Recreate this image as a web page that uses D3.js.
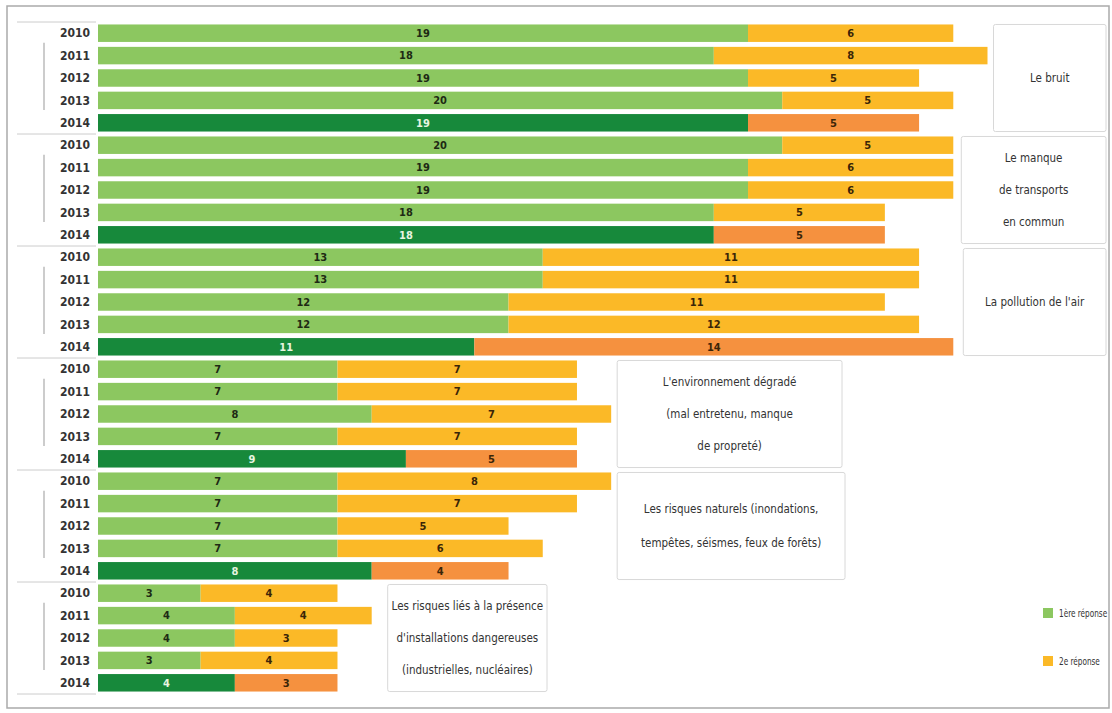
<!DOCTYPE html>
<html>
<head>
<meta charset="utf-8">
<script src="https://cdn.jsdelivr.net/npm/d3@7"></script>
<style>
  body { margin: 0; background: #fff; }
  text { font-family: "DejaVu Sans Condensed", "DejaVu Sans", sans-serif; font-stretch: condensed; }
</style>
</head>
<body>
<div id="chart"></div>
<script>
// Data
const years = ["2010", "2011", "2012", "2013", "2014"];
const categories = [
  ["Le bruit"],
  ["Le manque", "de transports", "en commun"],
  ["La pollution de l'air"],
  ["L'environnement dégradé", "(mal entretenu, manque", "de propreté)"],
  ["Les risques naturels (inondations,", "tempêtes, séismes, feux de forêts)"],
  ["Les risques liés à la présence", "d'installations dangereuses", "(industrielles, nucléaires)"]
];
const first = [
  [19, 18, 19, 20, 19],
  [20, 19, 19, 18, 18],
  [13, 13, 12, 12, 11],
  [7, 7, 8, 7, 9],
  [7, 7, 7, 7, 8],
  [3, 4, 4, 3, 4]
];
const second = [
  [6, 8, 5, 5, 5],
  [5, 6, 6, 5, 5],
  [11, 11, 11, 12, 14],
  [7, 7, 7, 7, 5],
  [8, 7, 5, 6, 4],
  [4, 4, 3, 4, 3]
];
const legendLabels = ["1ère réponse", "2e réponse"];

// Layout (label box gaps and right edges)
const boxGap = [6, 8, 10, 6, 6, 16];
const boxRight = [1106, 1106, 1106, 842, 845, 547];

const width = 1112, height = 713;
const svg = d3.select("#chart").append("svg")
  .attr("width", width).attr("height", height);

// frame
svg.append("rect")
  .attr("x", 7).attr("y", 6).attr("width", 1102).attr("height", 702)
  .attr("fill", "none").attr("stroke", "#aaa").attr("stroke-width", 1.5);

const rows = [];
categories.forEach((c, g) => years.forEach((yr, i) => rows.push({
  g, i, year: yr, key: g + "-" + yr, a: first[g][i], b: second[g][i]
})));

const x = d3.scaleLinear().domain([0, 26]).range([98, 987.5]);
const y = d3.scaleBand().domain(rows.map(d => d.key))
  .range([22, 694]).paddingInner(0.22).paddingOuter(0.11);

const colors = {
  a: "#8cc760", aLast: "#17893b",
  b: "#fbb927", bLast: "#f5913f"
};

// group separators + vertical ticks
const step = y.step();
categories.forEach((c, g) => {
  const top = y(g + "-2010") - step * 0.11;
  const bottom = y(g + "-2014") + y.bandwidth() + step * 0.11;
  svg.append("line").attr("x1", 17).attr("x2", 96).attr("y1", top).attr("y2", top)
    .attr("stroke", "#ccc");
  if (g === categories.length - 1) {
    svg.append("line").attr("x1", 17).attr("x2", 96).attr("y1", bottom).attr("y2", bottom)
      .attr("stroke", "#ccc");
  }
  svg.append("line").attr("x1", 44).attr("x2", 44)
    .attr("y1", y(g + "-2011") - 4).attr("y2", y(g + "-2014") - 4)
    .attr("stroke", "#bbb").attr("stroke-width", 1.5);
});

// year labels
svg.append("g").selectAll("text").data(rows).join("text")
  .attr("x", 90).attr("y", d => y(d.key) + y.bandwidth() / 2)
  .attr("dy", "0.35em").attr("text-anchor", "end")
  .attr("font-size", 12).attr("font-weight", "bold").attr("fill", "#333")
  .text(d => d.year);

const bars = svg.append("g").selectAll("g").data(rows).join("g");

bars.append("rect")
  .attr("x", x(0)).attr("y", d => y(d.key))
  .attr("width", d => x(d.a) - x(0)).attr("height", y.bandwidth())
  .attr("fill", d => d.i === 4 ? colors.aLast : colors.a);

bars.append("rect")
  .attr("x", d => x(d.a)).attr("y", d => y(d.key))
  .attr("width", d => x(d.a + d.b) - x(d.a)).attr("height", y.bandwidth())
  .attr("fill", d => d.i === 4 ? colors.bLast : colors.b);

bars.append("text")
  .attr("x", d => (x(0) + x(d.a)) / 2).attr("y", d => y(d.key) + y.bandwidth() / 2)
  .attr("dy", "0.35em").attr("text-anchor", "middle")
  .attr("font-size", 11).attr("font-weight", "bold")
  .attr("fill", d => d.i === 4 ? "#e8f5e0" : "#1e2a14")
  .text(d => d.a);

bars.append("text")
  .attr("x", d => (x(d.a) + x(d.a + d.b)) / 2).attr("y", d => y(d.key) + y.bandwidth() / 2)
  .attr("dy", "0.35em").attr("text-anchor", "middle")
  .attr("font-size", 11).attr("font-weight", "bold").attr("fill", "#3a2508")
  .text(d => d.b);

// category boxes
categories.forEach((lines, g) => {
  const maxTotal = d3.max(first[g].map((v, i) => v + second[g][i]));
  const x0 = x(maxTotal) + boxGap[g];
  const y0 = y(g + "-2010");
  const y1 = y(g + "-2014") + y.bandwidth();
  const box = svg.append("g");
  box.append("rect")
    .attr("x", x0).attr("y", y0).attr("width", boxRight[g] - x0).attr("height", y1 - y0)
    .attr("fill", "#fff").attr("stroke", "#d8d8d8").attr("rx", 2);
  const cx = (x0 + boxRight[g]) / 2, cy = (y0 + y1) / 2;
  const lh = lines.length === 2 ? 34 : 32;
  box.selectAll("text").data(lines).join("text")
    .attr("x", cx).attr("y", (d, k) => cy + (k - (lines.length - 1) / 2) * lh)
    .attr("dy", "0.35em").attr("text-anchor", "middle")
    .attr("font-size", 11.5).attr("fill", "#333")
    .text(d => d);
});

// legend
const legend = svg.append("g").selectAll("g").data(legendLabels).join("g")
  .attr("transform", (d, k) => `translate(1043, ${613 + k * 48})`);
legend.append("rect").attr("x", 0).attr("y", -5).attr("width", 10).attr("height", 10)
  .attr("fill", (d, k) => k === 0 ? colors.a : colors.b);
legend.append("text")
  .attr("transform", "translate(16,0) scale(0.74,1)")
  .attr("dy", "0.35em")
  .attr("font-size", 11).attr("fill", "#333")
  .text(d => d);
</script>
</body>
</html>
